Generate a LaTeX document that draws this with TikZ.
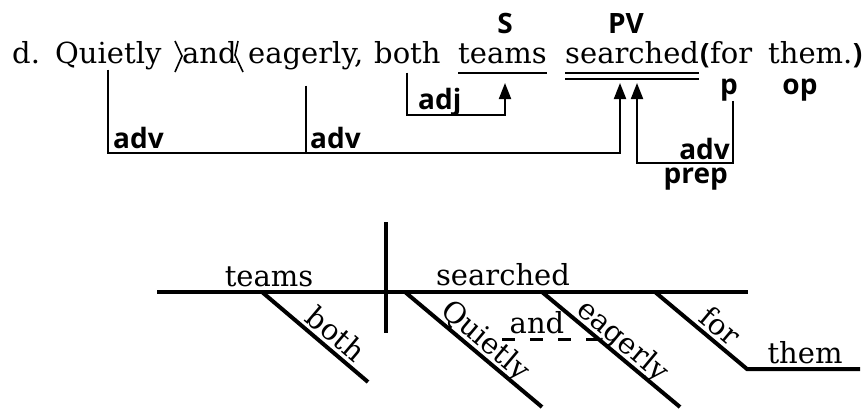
\documentclass[tikz,border=0pt]{standalone}
\usepackage{fontspec}
\setmainfont{DejaVu Serif}
\newfontfamily\tagfont{Open Sans}
\usepackage{tikz}
\usetikzlibrary{arrows.meta}
\usetikzlibrary{positioning}

\tikzset{
	word/.style={font=\fontsize{29}{32}\selectfont, inner sep=0pt, anchor=base west},
	tag/.style={font=\tagfont\bfseries\fontsize{28}{30}\selectfont, inner sep=0pt, anchor=base west},
	slant/.style={sloped, above, inner sep=3.5pt, text depth=0pt},
	link/.style={line width=2pt},
	hook/.style={line width=2pt, -{Triangle[length=16pt, width=12pt]}},
	rule/.style={line width=4pt},
}

\begin{document}
\begin{tikzpicture}[x=1pt, y=-1pt]
				\useasboundingbox (0,0) rectangle (864,410);

				% the sentence
				\node[word] (d) at (12,63) {d.};
				\node[word] (Q) at (55,63) {Quietly};
				\node[word] (and) at (182,63) {and};
				\node[word] (E) at (248,63) {eagerly,};
				\node[word] (both) at (374,63) {both};
				\node[word] (teams) at (458,63) {teams};
				\node[word] (searched) at (565,63) {searched};
				\node[tag] (lp) at (700,63) {(};
				\node[word] (for) at (710,63) {for};
				\node[word] (them) at (768,63) {them.};
				\node[tag] (rp) at (them.base east) {)};

				\draw[line width=1.6pt] (175,41) -- (182,56) -- (175,72);
				\draw[line width=1.6pt] (238,41) -- (235,55) -- (243,72);

				\node[tag, anchor=base] (S) at (505,33) {S};
				\node[tag, anchor=base] (PV) at (626,33) {PV};
				\node[tag, anchor=base] (p) at (729,94) {p};
				\node[tag, anchor=base] (op) at (800,94) {op};

				\draw[link] ([yshift=-10pt]teams.base west) -- ([yshift=-10pt]teams.base east);
				\draw[link] ([yshift=-10pt]searched.base west) -- ([yshift=-10pt]searched.base east);
				\draw[link] ([yshift=-16pt]searched.base west) -- ([yshift=-16pt]searched.base east);

				\coordinate (tipS) at (505,83);
				\coordinate (tipA) at (620,83);
				\coordinate (tipB) at (637,83);
				\coordinate (hubS) at (505,115);
				\coordinate (hubA) at (620,153);
				\coordinate (hubB) at (637,163);

				\draw[hook] (Q.south) |- (hubA) -- (tipA);
				\draw[link] ([yshift=-16pt]E.south) -- (E.south |- hubA);
				\draw[hook] ([yshift=-9pt]both.south) |- (hubS) -- (tipS);
				\draw[hook] ([xshift=4pt]p.south) |- (hubB) -- (tipB);

				\node[tag] (adv1) at (113,148) {adv};
				\node[tag] (adv2) at (310,148) {adv};
				\node[tag] (adj) at (418,109) {adj};
				\node[tag, anchor=base east] (adv3) at (730,159) {adv};
				\node[tag, anchor=base east] (prep) at (728,183) {prep};

				% the diagram
				\coordinate (L) at (157,292);
				\coordinate (R) at (748,292);
				\coordinate (divT) at (386,222);
				\coordinate (divB) at (386,333);
				\draw[rule] (L) -- (R);
				\draw[rule] (divT) -- (divB);
				\node[word, anchor=base] (dTeams) at (269,286) {teams};
				\node[word, anchor=base] (dSearched) at (503,285) {searched};

				\coordinate (bothA) at (262,292);
				\coordinate (bothB) at (368,382);
				\coordinate (quietA) at (405,292);
				\coordinate (quietB) at (542,407);
				\coordinate (eagerA) at (542,292);
				\coordinate (eagerB) at (680,407);
				\coordinate (forA) at (655,292);
				\coordinate (forB) at (747,369);
				\coordinate (themB) at (860,369);
				\coordinate (andA) at (502,339);
				\coordinate (andB) at (598,339);

				\draw[rule] (bothA) -- (bothB) node[word, slant, pos=0.6] {both};
				\draw[rule] (quietA) -- (quietB) node[word, slant, pos=0.52] {Quietly};
				\draw[rule] (eagerA) -- (eagerB) node[word, slant, pos=0.52] {eagerly};
				\draw[rule] (forA) -- (forB) node[word, slant, pos=0.6] {for} -- (themB);
				\node[word, anchor=base] (dThem) at (805,363) {them};
				\draw[line width=3pt, dash pattern=on 13pt off 15pt] (andA) -- (andB);
				\node[word, anchor=base] (dAnd) at (537,333) {and};
			\end{tikzpicture}
\end{document}
